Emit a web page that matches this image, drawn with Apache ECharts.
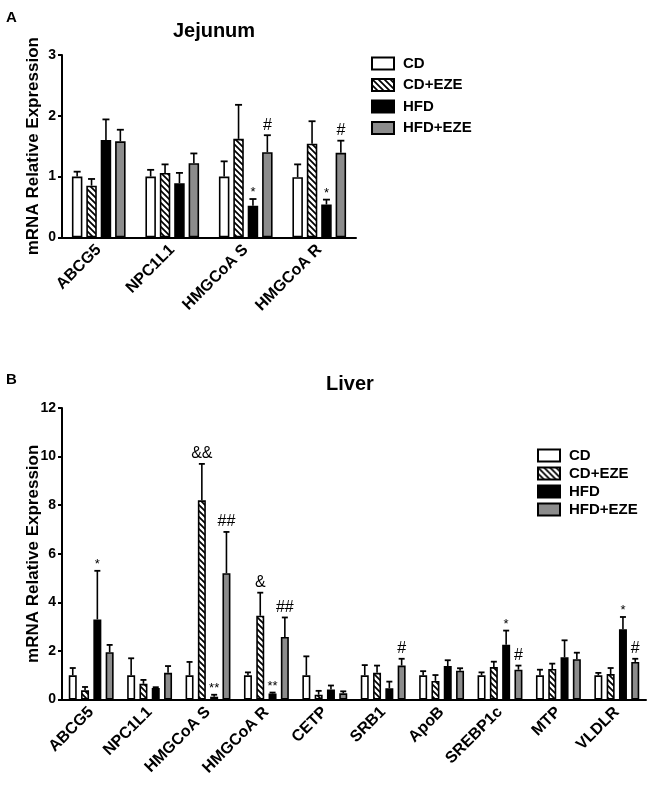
<!DOCTYPE html>
<html>
<head>
<meta charset="utf-8">
<script src="https://cdn.jsdelivr.net/npm/echarts@6/dist/echarts.min.js"></script>
<style>
html,body{margin:0;padding:0;background:#fff;}
#chart{width:649px;height:789px;}
</style>
</head>
<body>
<div id="chart"></div>
<script>
// ---------- DATA ----------
const seriesNames = ['CD', 'CD+EZE', 'HFD', 'HFD+EZE'];

// Panel A: Jejunum
const catsA = ['ABCG5', 'NPC1L1', 'HMGCoA S', 'HMGCoA R'];
const aCD = [1.0, 1.0, 1.0, 0.99];
const aCDErr = [0.08, 0.11, 0.25, 0.21];
const aCDEZE = [0.85, 1.06, 1.62, 1.54];
const aCDEZEErr = [0.11, 0.14, 0.56, 0.37];
const aHFD = [1.6, 0.89, 0.52, 0.54];
const aHFDErr = [0.34, 0.17, 0.11, 0.08];
const aHFDEZE = [1.58, 1.22, 1.4, 1.39];
const aHFDEZEErr = [0.19, 0.16, 0.28, 0.2];
const aMarksCD = ['', '', '', ''];
const aMarksCDEZE = ['', '', '', ''];
const aMarksHFD = ['', '', '*', '*'];
const aMarksHFDEZE = ['', '', '#', '#'];
const ticksA = [0, 1, 2, 3];

// Panel B: Liver
const catsB = ['ABCG5', 'NPC1L1', 'HMGCoA S', 'HMGCoA R', 'CETP', 'SRB1', 'ApoB', 'SREBP1c', 'MTP', 'VLDLR'];
const bCD = [1, 1, 1, 1, 1, 1, 1, 1, 1, 1];
const bCDErr = [0.3, 0.7, 0.55, 0.12, 0.78, 0.42, 0.17, 0.12, 0.23, 0.1];
const bCDEZE = [0.38, 0.65, 8.2, 3.45, 0.2, 1.1, 0.77, 1.34, 1.26, 1.05];
const bCDEZEErr = [0.14, 0.16, 1.5, 0.95, 0.16, 0.3, 0.24, 0.22, 0.22, 0.25];
const bHFD = [3.3, 0.48, 0.12, 0.25, 0.42, 0.47, 1.38, 2.26, 1.74, 2.9];
const bHFDErr = [2.0, 0.03, 0.08, 0.04, 0.16, 0.27, 0.24, 0.58, 0.7, 0.5];
const bHFDEZE = [1.95, 1.1, 5.2, 2.58, 0.26, 1.4, 1.19, 1.23, 1.66, 1.55];
const bHFDEZEErr = [0.3, 0.28, 1.7, 0.8, 0.08, 0.28, 0.1, 0.17, 0.27, 0.13];
const bMarksCD = ['', '', '', '', '', '', '', '', '', ''];
const bMarksCDEZE = ['', '', '&&', '&', '', '', '', '', '', ''];
const bMarksHFD = ['*', '', '**', '**', '', '', '', '*', '', '*'];
const bMarksHFDEZE = ['', '', '##', '##', '', '#', '', '#', '', '#'];
const ticksB = [0, 2, 4, 6, 8, 10, 12];

// ---------- STYLE ----------
const FONT = '"Liberation Sans", Arial, Helvetica, sans-serif';

function hatch() {
  const c = document.createElement('canvas');
  c.width = 6; c.height = 6;
  const g = c.getContext('2d');
  g.fillStyle = '#fff'; g.fillRect(0, 0, 6, 6);
  g.strokeStyle = '#000'; g.lineWidth = 1.7;
  g.beginPath();
  g.moveTo(-1, -1); g.lineTo(7, 7);
  g.moveTo(-1, 5); g.lineTo(1, 7);
  g.moveTo(5, -1); g.lineTo(7, 1);
  g.stroke();
  return c;
}
const fills = ['#ffffff', { image: hatch(), repeat: 'repeat' }, '#000000', '#8c8c8c'];

const chart = echarts.init(document.getElementById('chart'), null, { renderer: 'canvas' });

const panels = [
  { cats: catsA, means: [aCD, aCDEZE, aHFD, aHFDEZE], errs: [aCDErr, aCDEZEErr, aHFDErr, aHFDEZEErr],
    marks: [aMarksCD, aMarksCDEZE, aMarksHFD, aMarksHFDEZE], ticks: ticksA,
    barWidth: 10.5, gap: 3.9, cap: 7 },
  { cats: catsB, means: [bCD, bCDEZE, bHFD, bHFDEZE], errs: [bCDErr, bCDEZEErr, bHFDErr, bHFDEZEErr],
    marks: [bMarksCD, bMarksCDEZE, bMarksHFD, bMarksHFDEZE], ticks: ticksB,
    barWidth: 8, gap: 4.3, cap: 6 }
];

const series = [];
panels.forEach((p, pi) => {
  p.means.forEach((m, si) => {
    series.push({
      name: seriesNames[si], type: 'bar', xAxisIndex: pi, yAxisIndex: pi,
      data: m, barWidth: p.barWidth, barGap: (p.gap / p.barWidth * 100) + '%',
      itemStyle: { color: fills[si], borderColor: '#000', borderWidth: 1.6 },
      silent: true, z: 2
    });
  });
  p.means.forEach((m, si) => {
    const data = m.map((v, i) => [i, v, v + p.errs[si][i], p.marks[si][i]]);
    const offset = (si - 1.5) * (p.barWidth + p.gap);
    series.push({
      type: 'custom', xAxisIndex: pi, yAxisIndex: pi, silent: true, z: 3,
      data: data,
      renderItem: function (params, api) {
        const x = api.value(0);
        const base = api.coord([x, api.value(1)]);
        const top = api.coord([x, api.value(2)]);
        const cx = base[0] + offset;
        const mark = data[params.dataIndex][3];
        const children = [
          { type: 'line', shape: { x1: cx, y1: base[1], x2: cx, y2: top[1] }, style: { stroke: '#000', lineWidth: 1.6 } },
          { type: 'line', shape: { x1: cx - p.cap / 2, y1: top[1], x2: cx + p.cap / 2, y2: top[1] }, style: { stroke: '#000', lineWidth: 1.8 } }
        ];
        if (mark) {
          const star = mark.indexOf('*') >= 0;
          children.push({
            type: 'text',
            style: {
              text: mark, x: cx, y: top[1] - (star ? 0 : 2), align: 'center', verticalAlign: 'bottom',
              fontFamily: FONT, fontSize: star ? 13 : 16, fontWeight: 'normal', fill: '#000'
            }
          });
        }
        return { type: 'group', children: children };
      }
    });
  });
});

function xAxis(cats, gi) {
  return {
    type: 'category', gridIndex: gi, data: cats,
    axisLine: { lineStyle: { color: '#000', width: 2 } },
    axisTick: { alignWithLabel: true, length: 3, lineStyle: { color: '#000', width: 2 } },
    axisLabel: { rotate: 45, margin: 10, color: '#000', fontFamily: FONT, fontWeight: 'bold', fontSize: 16, interval: 0 }
  };
}
function yAxis(ticks, gi) {
  return {
    type: 'value', gridIndex: gi, min: ticks[0], max: ticks[ticks.length - 1], interval: ticks[1] - ticks[0],
    name: 'mRNA Relative Expression', nameLocation: 'middle', nameGap: 20, nameRotate: 90,
    nameMoveOverlap: false,
    nameTextStyle: { color: '#000', fontFamily: FONT, fontWeight: 'bold', fontSize: 17 },
    axisLine: { show: true, lineStyle: { color: '#000', width: 2 } },
    axisTick: { show: true, length: 4, lineStyle: { color: '#000', width: 2 } },
    axisLabel: { color: '#000', fontFamily: FONT, fontWeight: 'bold', fontSize: 14, margin: 6 },
    splitLine: { show: false }
  };
}
function legend(left, top, gap) {
  return {
    left: left, top: top, orient: 'vertical', itemWidth: 22, itemHeight: 12, itemGap: gap,
    icon: 'rect', selectedMode: false, data: seriesNames,
    itemStyle: { borderColor: '#000', borderWidth: 2 },
    textStyle: { color: '#000', fontFamily: FONT, fontWeight: 'bold', fontSize: 15, padding: [0, 0, 0, 4] }
  };
}

chart.setOption({
  animation: false,
  backgroundColor: '#fff',
  title: [
    { text: 'Jejunum', left: 209, top: 16, textAlign: 'center', textStyle: { fontFamily: FONT, fontWeight: 'bold', fontSize: 20, color: '#000' } },
    { text: 'Liver', left: 345, top: 369, textAlign: 'center', textStyle: { fontFamily: FONT, fontWeight: 'bold', fontSize: 20, color: '#000' } }
  ],
  graphic: [
    { type: 'text', left: 6, top: 10, style: { text: 'A', fontFamily: FONT, fontWeight: 'bold', fontSize: 15, fill: '#000' } },
    { type: 'text', left: 6, top: 372, style: { text: 'B', fontFamily: FONT, fontWeight: 'bold', fontSize: 15, fill: '#000' } }
  ],
  legend: [legend(366, 51, 6.5), legend(532, 443, 3)],
  grid: [
    { left: 62, width: 294, top: 55, height: 182.3 },
    { left: 62, width: 584, top: 408, height: 291.6 }
  ],
  xAxis: [xAxis(catsA, 0), xAxis(catsB, 1)],
  yAxis: [yAxis(ticksA, 0), yAxis(ticksB, 1)],
  series: series
});
</script>
</body>
</html>
